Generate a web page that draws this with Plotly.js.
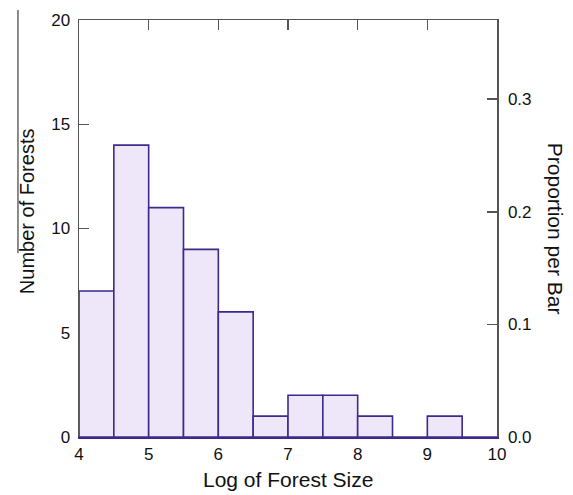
<!DOCTYPE html>
<html>
<head>
<meta charset="utf-8">
<script src="https://cdn.plot.ly/plotly-3.0.1.min.js"></script>
<style>html,body{margin:0;padding:0;background:#fff;}#chart{width:573px;height:495px;}</style>
</head>
<body>
<div id="chart"></div>
<script>
// Histogram bins (left edges, width 0.5) and counts
const binStarts = [4.0, 4.5, 5.0, 5.5, 6.0, 6.5, 7.0, 7.5, 8.0, 8.5, 9.0, 9.5];
const binWidth = 0.5;
const counts = [7, 14, 11, 9, 6, 1, 2, 2, 1, 0, 1, 0];
const xTicks = [4, 5, 6, 7, 8, 9, 10];
const yTicks = [0, 5, 10, 15, 20];
const propTicks = [0.0, 0.1, 0.2, 0.3];
const propLabels = ['0.0', '0.1', '0.2', '0.3'];
const xTitle = 'Log of Forest Size';
const yTitle = 'Number of Forests';
const y2Title = 'Proportion per Bar';

const total = counts.reduce((a, b) => a + b, 0);
const yMax = 20;

const font = 'Liberation Sans, Arial, sans-serif';
const tickFontFamily = 'Liberation Sans Narrow, Arial Narrow, Liberation Sans, Arial, sans-serif';
const axisGray = '#555555';
const barLine = '#3d2a8c';
const barFill = '#ede7f9';
const tickFont = {family: tickFontFamily, size: 17, color: '#111'};

const traces = [
  {
    type: 'bar',
    x: binStarts,
    y: counts,
    width: binWidth,
    offset: 0,
    marker: {color: barFill, line: {color: barLine, width: 1.6}},
    hoverinfo: 'skip'
  },
  {type: 'scatter', x: [], y: [], yaxis: 'y2', xaxis: 'x', hoverinfo: 'skip', showlegend: false},
  {type: 'scatter', x: [], y: [], xaxis: 'x2', yaxis: 'y', hoverinfo: 'skip', showlegend: false}
];

const layout = {
  width: 573, height: 495,
  margin: {l: 79, r: 76, t: 20, b: 58, pad: 0},
  paper_bgcolor: '#ffffff', plot_bgcolor: '#ffffff',
  showlegend: false,
  bargap: 0,
  font: {family: font, size: 16, color: '#111'},
  xaxis: {
    range: [xTicks[0], xTicks[xTicks.length - 1]],
    tickvals: xTicks, ticktext: xTicks.map(String),
    ticks: 'inside', ticklen: 10, tickcolor: axisGray, tickwidth: 1.5,
    showline: true, linecolor: barLine, linewidth: 2,
    showgrid: false, zeroline: false,
    layer: 'below traces',
    ticklabelstandoff: 1,
    tickfont: tickFont,
    fixedrange: true
  },
  xaxis2: {
    overlaying: 'x', side: 'top', anchor: 'y',
    range: [xTicks[0], xTicks[xTicks.length - 1]],
    tickvals: xTicks.slice(1, -1),
    showticklabels: false,
    ticks: 'inside', ticklen: 10, tickcolor: axisGray, tickwidth: 1.5,
    showline: true, linecolor: axisGray, linewidth: 1.5,
    showgrid: false, zeroline: false
  },
  yaxis: {
    range: [0, yMax],
    tickvals: yTicks, ticktext: yTicks.map(String),
    ticks: 'inside', ticklen: 10, tickcolor: axisGray, tickwidth: 1.5,
    showline: true, linecolor: axisGray, linewidth: 1.5,
    showgrid: false, zeroline: false,
    layer: 'below traces',
    ticklabelstandoff: 4,
    tickfont: tickFont
  },
  yaxis2: {
    overlaying: 'y', side: 'right', anchor: 'x',
    range: [0, yMax / total],
    tickvals: propTicks, ticktext: propLabels,
    ticks: 'inside', ticklen: 10, tickcolor: axisGray, tickwidth: 1.5,
    showline: true, linecolor: axisGray, linewidth: 1.5,
    showgrid: false, zeroline: false,
    ticklabelstandoff: 6,
    tickfont: tickFont
  },
  annotations: [
    {text: xTitle, xref: 'paper', yref: 'paper', x: 0.5, y: -0.101, xanchor: 'center', yanchor: 'middle',
     showarrow: false, font: {family: font, size: 21, color: '#111'}},
    {text: yTitle, xref: 'paper', yref: 'paper', x: -0.124, y: 0.542, xanchor: 'center', yanchor: 'middle',
     textangle: -90, showarrow: false, font: {family: font, size: 20, color: '#111'}},
    {text: y2Title, xref: 'paper', yref: 'paper', x: 1.139, y: 0.499, xanchor: 'center', yanchor: 'middle',
     textangle: 90, showarrow: false, font: {family: font, size: 21, color: '#111'}}
  ],
  shapes: [
    {type: 'line', xref: 'paper', yref: 'paper', x0: -0.146, x1: -0.146, y0: 0.441, y1: 1.024,
     line: {color: '#666666', width: 1.5}}
  ]
};

Plotly.newPlot('chart', traces, layout, {displayModeBar: false, staticPlot: true});
</script>
</body>
</html>
